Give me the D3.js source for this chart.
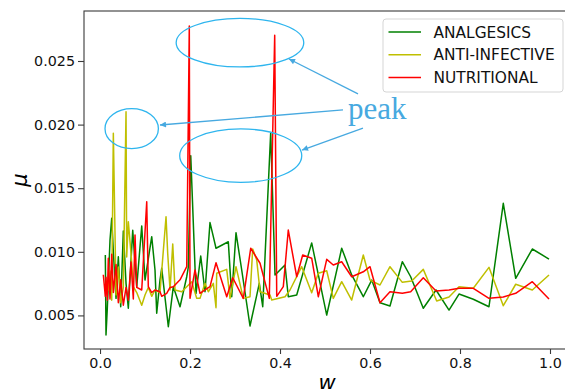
<!DOCTYPE html>
<html>
<head>
<meta charset="utf-8">
<script src="https://cdn.jsdelivr.net/npm/d3@7"></script>
<style>
  body { margin: 0; background: #fff; }
  svg { display: block; }
</style>
</head>
<body>
<div id="chart"></div>
<script>
// series values: [w, mu]
const analgesics = [
  [0.0118, 0.00975], [0.0133, 0.00346], [0.0162, 0.00556], [0.0222, 0.01093], [0.026, 0.01263],
  [0.0296, 0.01001], [0.0356, 0.00634], [0.0407, 0.00961], [0.046, 0.00568], [0.0518, 0.01164],
  [0.0578, 0.00752], [0.0629, 0.00556], [0.0727, 0.0117], [0.0816, 0.00726], [0.0927, 0.01203],
  [0.1, 0.00778], [0.1149, 0.01119], [0.1222, 0.00857], [0.126, 0.00517], [0.1333, 0.00778],
  [0.1371, 0.0087], [0.1518, 0.00411], [0.1629, 0.00726], [0.1778, 0.00568], [0.1927, 0.00804],
  [0.1962, 0.0088], [0.2016, 0.01756], [0.2133, 0.00674], [0.2238, 0.00967], [0.2333, 0.00686],
  [0.2444, 0.0123], [0.2518, 0.01119], [0.2578, 0.01028], [0.2851, 0.01079], [0.2927, 0.00647],
  [0.3022, 0.0115], [0.3149, 0.00857], [0.3333, 0.00417], [0.354, 0.00752], [0.3616, 0.00568],
  [0.3793, 0.01936], [0.3889, 0.00818], [0.4111, 0.00896], [0.4184, 0.00647], [0.4371, 0.0066],
  [0.4704, 0.0107], [0.5038, 0.00503], [0.5371, 0.01028], [0.5593, 0.00818], [0.5851, 0.00647],
  [0.6038, 0.00778], [0.6222, 0.006], [0.6444, 0.00574], [0.6718, 0.00922], [0.6904, 0.00804],
  [0.7184, 0.00556], [0.7467, 0.007], [0.7756, 0.00542], [0.7978, 0.00668], [0.8296, 0.00627],
  [0.8644, 0.00568], [0.8962, 0.01381], [0.9238, 0.00792], [0.9607, 0.01022], [0.9978, 0.00943]
];

const antiInfective = [
  [0.0133, 0.0068], [0.0184, 0.007], [0.0222, 0.0085], [0.026, 0.0062], [0.0296, 0.01932],
  [0.0356, 0.0066], [0.0407, 0.0088], [0.046, 0.006], [0.0518, 0.0072], [0.0578, 0.02101],
  [0.0593, 0.0096], [0.0629, 0.01237], [0.0689, 0.00988], [0.074, 0.00726], [0.0816, 0.0068],
  [0.0927, 0.0058], [0.1, 0.0066], [0.1073, 0.0072], [0.1149, 0.0065], [0.1222, 0.007],
  [0.1333, 0.0068], [0.1467, 0.01276], [0.1504, 0.00988], [0.1556, 0.007], [0.1616, 0.01061],
  [0.1667, 0.007], [0.1816, 0.00686], [0.2038, 0.00765], [0.2149, 0.00634], [0.2222, 0.00634],
  [0.2333, 0.00752], [0.2407, 0.00686], [0.2518, 0.00752], [0.2578, 0.00561], [0.2593, 0.00831],
  [0.2816, 0.00862], [0.2889, 0.00634], [0.3022, 0.00883], [0.3184, 0.00634], [0.3333, 0.00647],
  [0.3393, 0.01022], [0.3482, 0.00936], [0.3556, 0.00686], [0.3778, 0.0066], [0.3816, 0.00621],
  [0.4111, 0.00647], [0.4222, 0.007], [0.4482, 0.00883], [0.4704, 0.00678], [0.4851, 0.00831],
  [0.5038, 0.00851], [0.5184, 0.00634], [0.5371, 0.00765], [0.5593, 0.00621], [0.5851, 0.00975],
  [0.6, 0.00778], [0.6222, 0.00739], [0.6444, 0.00883], [0.6718, 0.0076], [0.6927, 0.0077],
  [0.7184, 0.00862], [0.7482, 0.00613], [0.7756, 0.00645], [0.7978, 0.00726], [0.8296, 0.00713],
  [0.8644, 0.00878], [0.8962, 0.00576], [0.9238, 0.00745], [0.9607, 0.007], [0.9978, 0.00818]
];

const nutritional = [
  [0.0073, 0.0082], [0.0118, 0.0065], [0.0133, 0.008], [0.0162, 0.0062], [0.0184, 0.0095],
  [0.0222, 0.0063], [0.026, 0.0098], [0.0296, 0.0068], [0.0356, 0.009], [0.0407, 0.006],
  [0.046, 0.0078], [0.0518, 0.0058], [0.0578, 0.0072], [0.0629, 0.0062], [0.0689, 0.0092],
  [0.074, 0.0063], [0.0778, 0.01132], [0.0816, 0.0072], [0.0927, 0.007], [0.1038, 0.01394],
  [0.1073, 0.00726], [0.1149, 0.0068], [0.1222, 0.007], [0.1333, 0.00686], [0.1371, 0.0065],
  [0.1482, 0.00674], [0.1556, 0.0072], [0.1629, 0.00726], [0.1778, 0.0078], [0.1927, 0.00883],
  [0.1984, 0.02775], [0.2, 0.00634], [0.2111, 0.00857], [0.2222, 0.00674], [0.2333, 0.007],
  [0.2444, 0.00726], [0.2578, 0.00914], [0.2816, 0.00647], [0.2949, 0.00796], [0.3184, 0.00634],
  [0.3349, 0.01028], [0.3556, 0.0091], [0.3762, 0.00634], [0.3882, 0.02702], [0.3927, 0.0065],
  [0.4073, 0.00726], [0.4184, 0.01171], [0.4371, 0.00804], [0.4504, 0.00975], [0.4704, 0.0095],
  [0.4851, 0.00647], [0.5038, 0.00941], [0.5184, 0.00896], [0.5371, 0.00922], [0.5593, 0.00804],
  [0.5851, 0.00843], [0.6, 0.00883], [0.6222, 0.006], [0.6444, 0.00686], [0.6718, 0.00674],
  [0.6904, 0.00686], [0.7184, 0.00796], [0.7467, 0.00692], [0.7756, 0.007], [0.7978, 0.00713],
  [0.8296, 0.00713], [0.8644, 0.00634], [0.8962, 0.00645], [0.9238, 0.00674], [0.9607, 0.00765],
  [0.9978, 0.00629]
];

const seriesNames = ["ANALGESICS", "ANTI-INFECTIVE", "NUTRITIONAL"];
const seriesColors = ["#008000", "#bfbf00", "#ff0000"];
const xTicks = [0.0, 0.2, 0.4, 0.6, 0.8, 1.0];
const yTicks = [0.005, 0.010, 0.015, 0.020, 0.025];

// annotations in data units: ellipses [cx, cy, rx, ry], arrows [x0, y0, x1, y1]
const peakEllipses = [
  [0.311, 0.02644, 0.1418, 0.00191],
  [0.3127, 0.01756, 0.1356, 0.0021],
  [0.0704, 0.01968, 0.0593, 0.00157]
];
const peakArrows = [
  [0.5733, 0.02241, 0.42, 0.02516],
  [0.54, 0.02115, 0.1333, 0.01997],
  [0.5844, 0.01973, 0.4489, 0.018]
];
const peakLabel = { text: "peak", w: 0.551, mu: 0.02044 };

const W = 565, H = 389;
const margin = { top: 11, left: 84, bottom: 40 };

const svg = d3.select("#chart").append("svg")
  .attr("width", W)
  .attr("height", H)
  .style("font-family", "'DejaVu Sans', sans-serif");

const x = d3.scaleLinear().domain([-0.0356, 1.0489]).range([margin.left, 572]);
const y = d3.scaleLinear().domain([0.00236, 0.02893]).range([H - margin.bottom, margin.top]);

// lines
const line = d3.line().x(d => x(d[0])).y(d => y(d[1]));
[analgesics, antiInfective, nutritional].forEach((s, i) => {
  svg.append("path")
    .datum(s)
    .attr("fill", "none")
    .attr("stroke", seriesColors[i])
    .attr("stroke-width", 1.5)
    .attr("stroke-linejoin", "round")
    .attr("d", line);
});

// spines
const spineColor = "#3a3a3a";
svg.append("rect")
  .attr("x", x.range()[0]).attr("y", y.range()[1])
  .attr("width", x.range()[1] - x.range()[0])
  .attr("height", y.range()[0] - y.range()[1])
  .attr("fill", "none").attr("stroke", spineColor).attr("stroke-width", 1.1);

// axes
const xAxis = svg.append("g")
  .attr("transform", `translate(0,${y.range()[0]})`)
  .call(d3.axisBottom(x).tickValues(xTicks).tickFormat(d3.format(".1f")).tickSize(5).tickPadding(4));
const yAxis = svg.append("g")
  .attr("transform", `translate(${x.range()[0]},0)`)
  .call(d3.axisLeft(y).tickValues(yTicks).tickFormat(d3.format(".3f")).tickSize(6).tickPadding(3));
[xAxis, yAxis].forEach(a => {
  a.select(".domain").remove();
  a.selectAll(".tick line").attr("stroke", spineColor).attr("stroke-width", 1.1);
  a.selectAll(".tick text")
    .attr("fill", "#111")
    .style("font-size", "14.3px")
    .style("font-family", "'DejaVu Sans', sans-serif");
});

// axis labels
svg.append("text")
  .attr("x", 327).attr("y", 390)
  .attr("text-anchor", "middle")
  .style("font-size", "21px").style("font-style", "italic")
  .text("w");
svg.append("text")
  .attr("transform", "translate(27,180) rotate(-90)")
  .attr("text-anchor", "middle")
  .style("font-size", "21px").style("font-style", "italic")
  .text("μ");

// legend
const lg = svg.append("g").attr("transform", "translate(383,19)");
lg.append("rect")
  .attr("width", 180).attr("height", 73).attr("rx", 3)
  .attr("fill", "#fff").attr("fill-opacity", 0.8)
  .attr("stroke", "#d5d5d5");
seriesNames.forEach((name, i) => {
  const ry = 13 + i * 22.7;
  lg.append("line")
    .attr("x1", 5.5).attr("x2", 38).attr("y1", ry).attr("y2", ry)
    .attr("stroke", seriesColors[i]).attr("stroke-width", 1.5);
  lg.append("text")
    .attr("x", 50.5).attr("y", ry)
    .attr("dy", "0.36em")
    .style("font-size", "15.4px")
    .attr("fill", "#111")
    .text(name);
});

// peak annotations
const annColor = "#2eb5ee";
const arrowColor = "#47a9e0";
svg.append("defs").append("marker")
  .attr("id", "head")
  .attr("viewBox", "0 0 10 10")
  .attr("refX", 10).attr("refY", 5)
  .attr("markerWidth", 8).attr("markerHeight", 6)
  .attr("markerUnits", "userSpaceOnUse")
  .attr("orient", "auto")
  .append("path").attr("d", "M0,0 L10,5 L0,10 z").attr("fill", arrowColor);

peakEllipses.forEach(e => {
  svg.append("ellipse")
    .attr("cx", x(e[0])).attr("cy", y(e[1]))
    .attr("rx", x(e[0] + e[2]) - x(e[0]))
    .attr("ry", y(e[1]) - y(e[1] + e[3]))
    .attr("fill", "none").attr("stroke", annColor).attr("stroke-width", 1.3);
});
peakArrows.forEach(a => {
  svg.append("line")
    .attr("x1", x(a[0])).attr("y1", y(a[1]))
    .attr("x2", x(a[2])).attr("y2", y(a[3]))
    .attr("stroke", arrowColor).attr("stroke-width", 1.3)
    .attr("marker-end", "url(#head)");
});
svg.append("text")
  .attr("x", x(peakLabel.w)).attr("y", y(peakLabel.mu))
  .style("font-family", "'Liberation Serif', 'Times New Roman', serif")
  .style("font-size", "31px")
  .attr("fill", arrowColor)
  .text(peakLabel.text);
</script>
</body>
</html>
